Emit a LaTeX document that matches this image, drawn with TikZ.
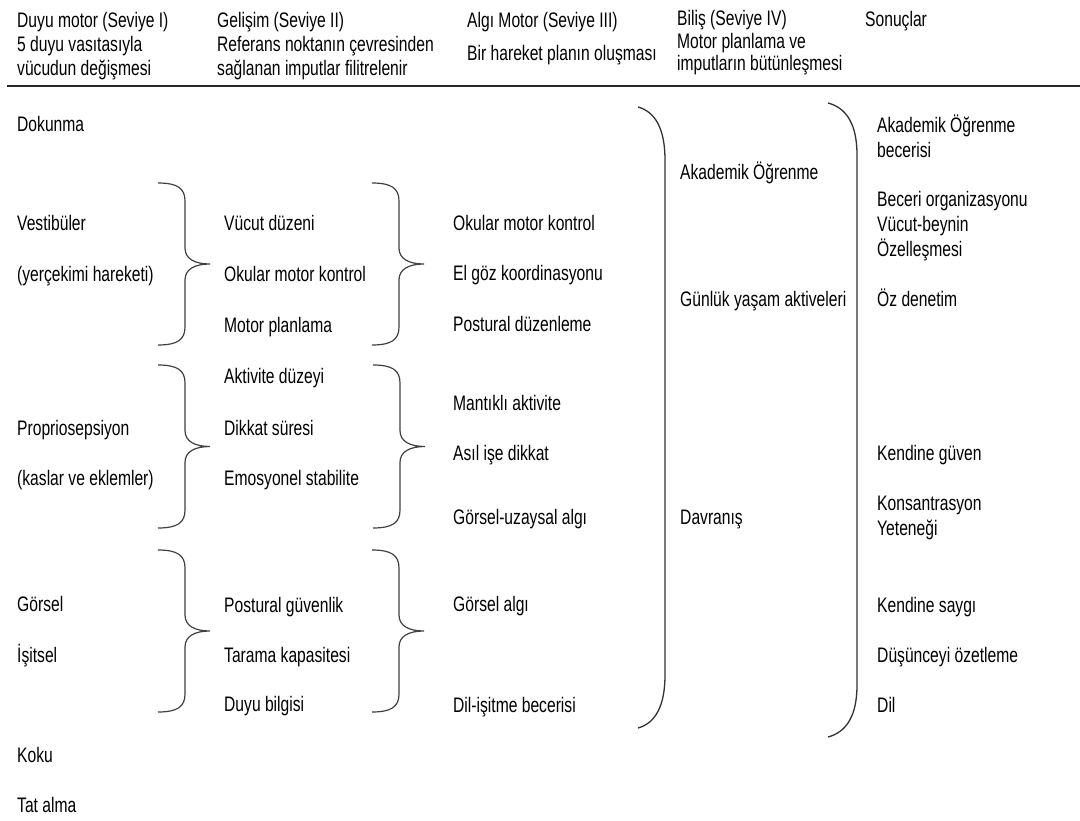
\documentclass[tikz,border=0pt]{standalone}
\usepackage{fontspec}
\setmainfont[FakeStretch=0.745]{Liberation Sans}
\newcommand\drawcurly[3]{%
\begin{scope}[shift={(#1,#2)}]
\pgfmathsetmacro\hh{#3}\pgfmathsetmacro\hm{#3/2}
\draw[curly] (0,0) .. controls (19,0) and (27,5) .. (27,18) -- (27,\hm-16) .. controls (27,\hm-5) and (37,\hm) .. (52,\hm) .. controls (37,\hm) and (27,\hm+5) .. (27,\hm+16) -- (27,\hh-18) .. controls (27,\hh-5) and (19,\hh) .. (0,\hh);
\end{scope}}
\begin{document}
\begin{tikzpicture}[x=1pt,y=-1pt,
  txt/.style={anchor=base west,inner sep=0pt,align=left,font=\fontsize{21}{24}\selectfont,text=black},
  tight/.style={font=\fontsize{21}{22.5}\selectfont},
  curly/.style={line width=1.2pt,draw=black!75},
  paren/.style={line width=1.3pt,draw=black!80},
  rule/.style={line width=2pt,draw=black!85}]
\useasboundingbox[fill=white] (0,0) rectangle (1080,821);
% header (base anchor = last line)
\node[txt] (h1) at (17,76) {Duyu motor (Seviye I)\\5 duyu vasıtasıyla\\vücudun değişmesi};
\node[txt] (h2) at (217,76) {Gelişim (Seviye II)\\Referans noktanın çevresinden\\sağlanan imputlar filitrelenir};
\node[txt] (h3) at (467,28) {Algı Motor (Seviye III)};
\node[txt] (h3b) at (467,61) {Bir hareket planın oluşması};
\node[txt,tight] (h4) at (677,71) {Biliş (Seviye IV)\\Motor planlama ve\\imputların bütünleşmesi};
\node[txt] (h5) at (865,27) {Sonuçlar};
\coordinate (rl) at (7,86);
\coordinate (rr) at (1080,86);
\draw[rule] (rl) -- (rr);
% column 1
\node[txt] (a1) at (17,132) {Dokunma};
\node[txt] (a2) at (17,231) {Vestibüler};
\node[txt] (a3) at (17,282) {(yerçekimi hareketi)};
\node[txt] (a4) at (17,435) {Propriosepsiyon};
\node[txt] (a5) at (17,485) {(kaslar ve eklemler)};
\node[txt] (a6) at (17,611) {Görsel};
\node[txt] (a7) at (17,662) {İşitsel};
\node[txt] (a8) at (17,762) {Koku};
\node[txt] (a9) at (17,812) {Tat alma};
% column 2
\node[txt] (b1) at (224,231) {Vücut düzeni};
\node[txt] (b2) at (224,282) {Okular motor kontrol};
\node[txt] (b3) at (224,333) {Motor planlama};
\node[txt] (b4) at (224,383) {Aktivite düzeyi};
\node[txt] (b5) at (224,435) {Dikkat süresi};
\node[txt] (b6) at (224,485) {Emosyonel stabilite};
\node[txt] (b7) at (224,612) {Postural güvenlik};
\node[txt] (b8) at (224,662) {Tarama kapasitesi};
\node[txt] (b9) at (224,711) {Duyu bilgisi};
% column 3
\node[txt] (c1) at (453,231) {Okular motor kontrol};
\node[txt] (c2) at (453,281) {El göz koordinasyonu};
\node[txt] (c3) at (453,332) {Postural düzenleme};
\node[txt] (c4) at (453,410) {Mantıklı aktivite};
\node[txt] (c5) at (453,460) {Asıl işe dikkat};
\node[txt] (c6) at (453,524) {Görsel-uzaysal algı};
\node[txt] (c7) at (453,611) {Görsel algı};
\node[txt] (c8) at (453,712) {Dil-işitme becerisi};
% column 4
\node[txt] (d1) at (680,180) {Akademik Öğrenme};
\node[txt] (d2) at (680,307) {Günlük yaşam aktiveleri};
\node[txt] (d3) at (680,524) {Davranış};
% column 5
\node[txt,font=\fontsize{21}{25}\selectfont] (e1) at (877,158) {Akademik Öğrenme\\becerisi};
\node[txt,font=\fontsize{21}{25}\selectfont] (e2) at (877,257) {Beceri organizasyonu\\Vücut-beynin\\Özelleşmesi};
\node[txt] (e3) at (877,307) {Öz denetim};
\node[txt] (e4) at (877,460) {Kendine güven};
\node[txt,font=\fontsize{21}{25}\selectfont] (e5) at (877,535) {Konsantrasyon\\Yeteneği};
\node[txt] (e6) at (877,612) {Kendine saygı};
\node[txt] (e7) at (877,662) {Düşünceyi özetleme};
\node[txt] (e8) at (877,712) {Dil};
% braces
\drawcurly{158}{183}{162}
\drawcurly{158}{365}{163}
\drawcurly{158}{550}{162}
\drawcurly{372}{183}{162}
\drawcurly{373}{365}{163}
\drawcurly{372}{550}{162}
% big brackets
\draw[paren] (638,107) .. controls (656,112) and (665,130) .. (665,160) -- (665,675) .. controls (665,705) and (656,723) .. (638,728);
\draw[paren] (828,103) .. controls (847,108) and (857,125) .. (857,155) -- (857,685) .. controls (857,715) and (847,732) .. (828,737);
\end{tikzpicture}
\end{document}
